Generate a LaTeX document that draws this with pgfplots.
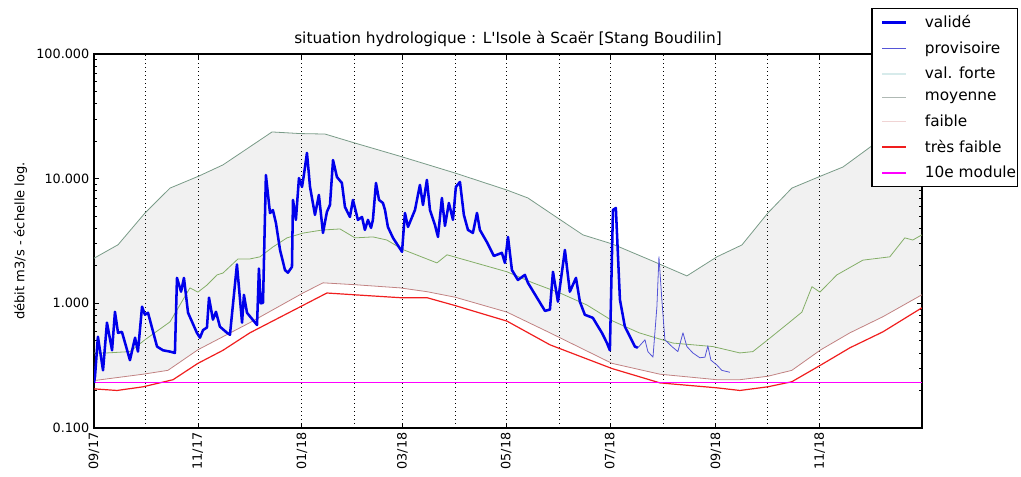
\documentclass[border=0pt]{standalone}
\usepackage{fontspec}
\setmainfont{DejaVu Sans}
\usepackage{pgfplots}
\pgfplotsset{compat=1.18}
\usepgfplotslibrary{fillbetween}

\definecolor{valide}{RGB}{0,0,235}
\definecolor{provis}{RGB}{85,85,215}
\definecolor{forte}{RGB}{125,160,140}
\definecolor{moyen}{RGB}{140,185,110}
\definecolor{faible}{RGB}{200,135,135}
\definecolor{tfaible}{RGB}{240,30,30}
\definecolor{dixmodule}{RGB}{255,0,255}
\definecolor{forteL}{RGB}{215,235,235}
\definecolor{moyenL}{RGB}{175,185,180}
\definecolor{faibleL}{RGB}{240,212,212}

% une ligne de légende de couleur et d'épaisseur données
\newcommand{\legline}[2]{\addlegendimage{legend image code/.code={%
  \path (0pt,0pt);
  \draw[color=#1, line width=#2] (6.2pt,0pt) -- (24.2pt,0pt);}}}

\begin{document}
\begin{tikzpicture}
\begin{axis}[
  set layers,
  width=621pt, height=280.5pt, scale only axis,
  ymode=log,
  xmin=0, xmax=486, ymin=0.1, ymax=100,
  axis line style={black, line width=0.8pt},
  ytick={0.1,1,10,100},
  yticklabels={0.100,1.000,10.000,100.000},
  minor ytick={0.2,0.3,0.4,0.5,0.6,0.7,0.8,0.9,2,3,4,5,6,7,8,9,20,30,40,50,60,70,80,90},
  xtick={0,61,122,181,242,303,365,426},
  xticklabels={09/17,11/17,01/18,03/18,05/18,07/18,09/18,11/18},
  extra x ticks={30,153,212,273,334,395},
  extra x tick labels={},
  extra x tick style={major tick length=0pt, grid=major},
  xmajorgrids,
  major grid style={black, line width=0.6pt, dash pattern=on 0.8pt off 2.2pt},
  tick align=inside,
  major tick length=4pt, minor tick length=2pt,
  tick style={black, line width=0.6pt},
  tick label style={font=\fontsize{9.6}{11}\selectfont},
  /pgf/number format/assume math mode=true,
  xticklabel style={rotate=90, anchor=east},
  ylabel={débit m3/s - échelle log.},
  ylabel style={font=\fontsize{9.8}{11}\selectfont},
  title={situation hydrologique : L\textquotesingle Isole à Scaër [Stang Boudilin]},
  title style={font=\fontsize{11.5}{13}\selectfont, yshift=-4pt},
  legend style={at={(1.116,1.122)}, anchor=north east, draw=black, line width=0.8pt,
    fill=white, font=\fontsize{11.5}{13}\selectfont, row sep=4.8pt,
    inner xsep=1pt, inner ysep=3pt, cells={anchor=west},
    nodes={inner xsep=0pt},
    /tikz/every odd column/.append style={column sep=13pt}},
  every axis plot/.append style={line join=round, forget plot},
]
\legline{valide}{2.2pt}
\addlegendentry{validé}
\legline{provis}{1.1pt}
\addlegendentry{provisoire}
\legline{forteL}{1.1pt}
\addlegendentry{val. forte}
\legline{moyenL}{1.1pt}
\addlegendentry{moyenne}
\legline{faibleL}{1.1pt}
\addlegendentry{faible}
\legline{tfaible}{1.1pt}
\addlegendentry{très faible}
\legline{dixmodule}{1.1pt}
\addlegendentry{10e module}

% débits
\addplot[valide, line width=1.9pt] coordinates {
(0,0.23)(0.6,0.26)(2.3,0.54)(5.3,0.29)(7.6,0.70)(10.6,0.42)(12.3,0.855)(14.1,0.58)
(16.4,0.59)(21.1,0.35)(24.1,0.53)(25.8,0.41)(28.2,0.94)(29.9,0.81)(31.7,0.84)
(37.0,0.45)(40.5,0.42)(44.6,0.41)(47.5,0.40)(48.7,1.60)(51.1,1.24)(52.8,1.60)
(55.2,0.84)(60.4,0.58)(62.2,0.53)(64.0,0.61)(66.3,0.64)(67.5,1.11)(69.8,0.74)
(71.6,0.855)(73.9,0.65)(78.1,0.58)(79.8,0.56)(83.9,2.05)(86.9,0.70)(88.0,1.17)
(89.8,0.84)(95.7,0.67)(96.8,1.9)(97.9,1.0)(99.2,1.01)(100.9,10.7)(103.3,5.3)
(105.0,5.6)(106.8,4.4)(109.2,2.68)(112.1,1.85)(113.8,1.76)(116.2,1.96)(116.8,6.75)
(118.5,4.67)(120.3,10.1)(122.1,8.58)(123.2,10.7)(125.0,16.1)(126.8,8.58)(129.7,5.12)
(132.0,7.4)(134.4,3.67)(136.7,5.41)(138.5,6.15)(140.3,14.1)(142.6,10.3)(145.5,9.24)
(147.3,5.93)(150.2,4.93)(152.0,6.75)(154.9,4.67)(157.3,4.93)(159.0,3.88)(160.8,4.67)
(162.6,4.03)(163.7,4.67)(165.5,9.24)(167.3,6.75)(169.6,6.38)(170.8,5.61)(172.5,4.10)
(175.5,3.35)(180.8,2.59)(182.5,5.31)(184.3,4.10)(188.4,5.61)(191.3,8.9)(193.1,6.15)
(195.4,9.77)(197.2,5.61)(200.1,4.26)(201.9,3.41)(204.2,7.0)(206.0,4.18)(208.3,6.38)
(210.7,4.67)(212.4,8.58)(214.8,9.41)(217.1,5.12)(219.5,3.88)(222.4,3.67)(224.8,5.31)
(226.5,3.88)(230.6,3.1)(234.7,2.4)(239.4,2.54)(241.2,2.11)(243.0,3.41)(245.3,1.85)
(248.8,1.54)(252.9,1.69)(254.7,1.46)(260.0,1.11)(264.7,0.87)(267.6,0.89)(269.4,1.79)
(272.3,1.03)(276.4,2.68)(279.3,1.24)(282.9,1.60)(285.2,1.03)(288.1,0.81)(292.8,0.765)
(298.1,0.58)(301.1,0.48)(302.8,0.42)(304.6,5.61)(306.3,5.82)(308.7,1.07)(311.6,0.65)
(314.6,0.54)(317.5,0.45)(319.2,0.44)};
\addplot[provis, line width=0.6pt] coordinates {
(319.2,0.44)(323.4,0.51)(325.1,0.41)(328.1,0.37)(330.4,0.94)(331.6,2.36)(333.3,1.07)
(335.1,0.51)(339.2,0.45)(342.7,0.41)(345.7,0.58)(348.0,0.45)(351.5,0.40)(355.6,0.366)
(358.6,0.37)(360.3,0.456)(362.1,0.35)(365.6,0.32)(368.5,0.29)(373.2,0.28)};

% seuils et statistiques, sous les débits
\addplot[on layer=pre main, name path=upper, forte, line width=0.6pt] coordinates {
(0,2.3)(14.1,2.95)(29.9,5.3)(44.6,8.4)(61.6,10.5)(75.7,12.9)(104.5,23.7)(120.9,23.0)
(135.6,22.8)(153.2,19.3)(181.3,14.9)(211.9,11.1)(242.4,8.1)(254.7,7.0)(273.5,4.7)
(287.0,3.54)(304.0,3.0)(326.3,2.23)(348.0,1.66)(365.6,2.36)(380.3,2.94)(395.5,5.3)
(409.6,8.4)(426.6,10.5)(439.6,12.4)(457.2,18.6)(469.5,23.7)(485.9,23.0)};
\addplot[on layer=pre main, moyen, line width=0.6pt] coordinates {
(0,0.40)(7.6,0.40)(21.1,0.41)(29.9,0.51)(44.6,0.71)(56.3,1.33)(61.0,1.23)(66.3,1.40)
(72.2,1.69)(75.7,1.75)(84.5,2.27)(91.5,2.27)(97.4,2.36)(105.0,2.83)(113.3,3.35)
(122.7,3.66)(133.8,3.87)(144.4,3.95)(153.2,3.35)(163.7,3.41)(171.9,3.22)(181.3,2.7)
(201.3,2.11)(207.2,2.45)(242.4,1.79)(257.6,1.46)(273.5,1.21)(289.3,0.97)(304.6,0.72)
(320.0,0.58)(339.8,0.48)(363.3,0.45)(379.1,0.40)(386.7,0.41)(395.5,0.51)(408.5,0.71)
(415.5,0.85)(421.4,1.36)(426.1,1.23)(436.0,1.69)(451.3,2.22)(467.1,2.36)(475.9,3.35)
(480.6,3.22)(485.9,3.54)};
\addplot[on layer=pre main, name path=faible, faible, line width=0.6pt] coordinates {
(0,0.24)(28.8,0.27)(43.4,0.29)(61.0,0.424)(75.7,0.54)(91.5,0.70)(122.7,1.21)
(134.4,1.46)(153.2,1.41)(179.6,1.33)(195.4,1.24)(211.9,1.12)(242.4,0.85)(267.6,0.58)
(304.0,0.33)(332.2,0.27)(365.6,0.244)(379.1,0.244)(395.5,0.26)(409.6,0.29)
(426.6,0.424)(443.7,0.58)(463.0,0.78)(485.9,1.17)};
\addplot[on layer=pre main, tfaible, line width=0.9pt] coordinates {
(0,0.206)(13.5,0.20)(28.8,0.214)(46.4,0.244)(61.0,0.33)(75.7,0.42)(91.5,0.58)
(136.7,1.21)(153.2,1.17)(179.6,1.11)(195.4,1.11)(211.9,0.96)(242.4,0.72)(267.6,0.465)
(304.0,0.30)(332.2,0.23)(365.6,0.21)(379.1,0.20)(395.5,0.214)(409.6,0.235)
(426.6,0.32)(443.7,0.44)(463.0,0.59)(485.9,0.92)};
\addplot[on layer=pre main, dixmodule, line width=0.9pt] coordinates {(0,0.233)(486,0.233)};
\addplot[black, fill opacity=0.055, draw=none] fill between[of=upper and faible];
\end{axis}
\path (current axis.south west) ++(-70.5pt,-36.75pt) rectangle ++(765.75pt,357.75pt);
\end{tikzpicture}
\end{document}
